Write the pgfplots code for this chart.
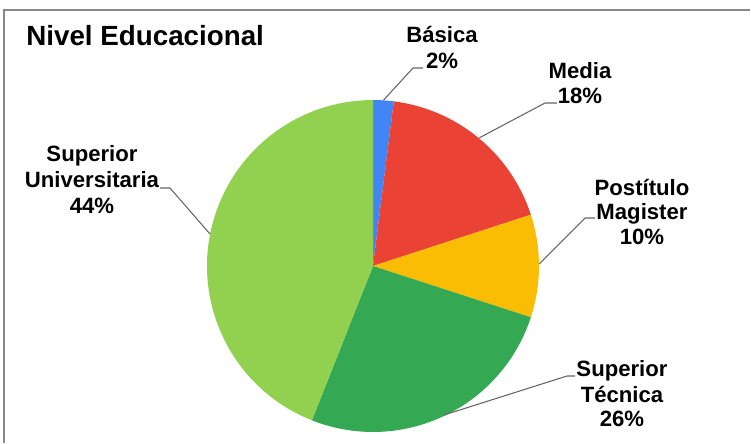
\documentclass[border=0pt]{standalone}
\usepackage{pgfplots}
\pgfplotsset{compat=1.18}
\usepackage{fontspec}
\setmainfont{Liberation Sans}

\definecolor{cBasica}{RGB}{66,133,244}
\definecolor{cMedia}{RGB}{234,67,53}
\definecolor{cPost}{RGB}{251,188,4}
\definecolor{cTec}{RGB}{52,168,83}
\definecolor{cUni}{RGB}{146,208,80}
\definecolor{frame}{RGB}{136,136,136}
\definecolor{leader}{RGB}{100,100,100}

\begin{document}
\begin{tikzpicture}[
    lbl/.style={font=\fontsize{12.6}{15}\selectfont\bfseries, inner sep=0pt, anchor=base},
]
\begin{axis}[
    x=0.02cm, y=0.02cm,
    xmin=0, xmax=751, ymin=0, ymax=443,
    hide axis, clip=false,
]
% canvas in pixel units, y measured upward
\path (axis cs:0,0) rectangle (axis cs:751,443);
\draw[frame, line width=0.8pt] (axis cs:4,0) -- (axis cs:4,433) -- (axis cs:750,433);

% pie slices: percentages, clockwise from 12 o'clock
\pgfplotsextra{
  \gdef\curang{90}
  \foreach \v/\c in {2/cBasica,18/cMedia,10/cPost,26/cTec,44/cUni}{
    \pgfmathsetmacro\endang{\curang-3.6*\v}
    \fill[\c] (axis cs:373,177) -- ++(\curang:3.32cm)
      arc[start angle=\curang, end angle=\endang, radius=3.32cm] -- cycle;
    \xdef\curang{\endang}
  }
}

% leader lines
\draw[leader, line width=0.6pt] (axis cs:383.4,342.7) -- (axis cs:413,375) -- (axis cs:423,375);
\draw[leader, line width=0.6pt] (axis cs:479,305) -- (axis cs:545,340) -- (axis cs:557,340);
\draw[leader, line width=0.6pt] (axis cs:539,179) -- (axis cs:585,225) -- (axis cs:595,225);
\draw[leader, line width=0.6pt] (axis cs:444,28) -- (axis cs:567,67) -- (axis cs:575,67);
\draw[leader, line width=0.6pt] (axis cs:210,209) -- (axis cs:170,255) -- (axis cs:160,255);

% title
\node[font=\fontsize{15.8}{18}\selectfont\bfseries, inner sep=0pt, anchor=base west]
  at (axis cs:26,397.3) {Nivel Educacional};

% labels
\node[lbl] at (axis cs:442,400.3) {Básica};
\node[lbl] at (axis cs:442,374.7) {2\%};
\node[lbl] at (axis cs:580,364.7) {Media};
\node[lbl] at (axis cs:580,339.7) {18\%};
\node[lbl] at (axis cs:642,248) {Postítulo};
\node[lbl] at (axis cs:642,223.5) {Magister};
\node[lbl] at (axis cs:642,199) {10\%};
\node[lbl] at (axis cs:622,66.3) {Superior};
\node[lbl] at (axis cs:622,40.3) {Técnica};
\node[lbl] at (axis cs:622,16.3) {26\%};
\node[lbl] at (axis cs:92,281.3) {Superior};
\node[lbl] at (axis cs:92,255.3) {Universitaria};
\node[lbl] at (axis cs:92,229.7) {44\%};
\end{axis}
\end{tikzpicture}
\end{document}
